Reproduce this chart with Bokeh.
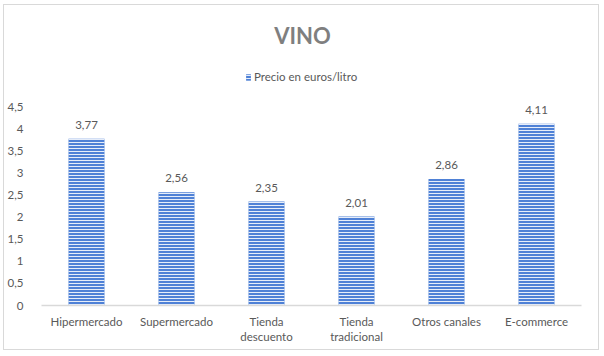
from bokeh.plotting import figure
from bokeh.models import ColumnDataSource, FactorRange, Range1d, FixedTicker, Label, Legend, LegendItem
from bokeh.core.properties import value
from bokeh.embed import file_html
from bokeh.resources import INLINE

title_text = "VINO"
series_name = "Precio en euros/litro"
categories = ["Hipermercado", "Supermercado", "Tienda\ndescuento", "Tienda\ntradicional", "Otros canales", "E-commerce"]
prices = [3.77, 2.56, 2.35, 2.01, 2.86, 4.11]
y_ticks = [0, 0.5, 1, 1.5, 2, 2.5, 3, 3.5, 4, 4.5]
y_tick_labels = ["0", "0,5", "1", "1,5", "2", "2,5", "3", "3,5", "4", "4,5"]

FONT = "Lato"
TXT = "#595959"
FS = "11.5px"

# canvas sits inside a 1px bordered box placed at (3,4) of the page
OX, OY = 4, 5
W, H = 596, 346
frame_top, frame_bottom = 8 - OY, 305 - OY
frame_left, frame_right = 41 - OX, 581 - OX
axis_max_px = 199.0  # pixels from 0 to 4.5
y_end = 4.5 * (frame_bottom - frame_top) / axis_max_px
px_per_unit = axis_max_px / 4.5

src = ColumnDataSource(dict(cat=categories, val=prices,
                            lab=[f"{v:.2f}".replace(".", ",") for v in prices]))

p = figure(width=W, height=H, x_range=FactorRange(factors=categories, range_padding=0),
           y_range=Range1d(0, y_end), output_backend="svg", toolbar_location=None,
           min_border_left=frame_left, min_border_right=W - frame_right,
           min_border_top=frame_top, min_border_bottom=H - frame_bottom)
p.margin = (4, 0, 0, 3)
p.styles = {"border": "1px solid #d9d9d9"}
p.outline_line_color = None
p.background_fill_color = "white"
p.border_fill_color = "white"
p.xgrid.grid_line_color = None
p.ygrid.grid_line_color = None

bars = p.vbar(x="cat", top="val", width=0.4, source=src,
              fill_color="#4f81d6", line_color=None,
              hatch_pattern="horizontal_line", hatch_color="#e6edf9",
              hatch_scale=3, hatch_weight=1)

p.text(x="cat", y="val", text="lab", source=src, text_align="center", text_baseline="bottom",
       y_offset=-10, text_font=value(FONT), text_font_size=FS, text_color=TXT)

# axes
p.yaxis.ticker = FixedTicker(ticks=y_ticks)
p.yaxis.major_label_overrides = {t: l for t, l in zip(y_ticks, y_tick_labels)}
p.yaxis.axis_line_color = None
p.yaxis.major_tick_line_color = None
p.yaxis.minor_tick_line_color = None
p.yaxis.major_label_standoff = 12
p.yaxis.major_label_text_font = FONT
p.yaxis.major_label_text_font_size = FS
p.yaxis.major_label_text_color = TXT

p.xaxis.axis_line_color = "#d9d9d9"
p.xaxis.axis_line_width = 1.5
p.xaxis.major_tick_line_color = None
p.xaxis.minor_tick_line_color = None
p.xaxis.major_label_standoff = 3
p.xaxis.major_label_text_font = FONT
p.xaxis.major_label_text_font_size = FS
p.xaxis.major_label_text_color = TXT

# title
title_y = (frame_bottom - (35 - OY)) / px_per_unit
p.add_layout(Label(x=3, y=title_y, x_offset=-9, text=title_text, text_align="center",
                   text_baseline="middle", text_font=FONT, text_font_style="bold",
                   text_font_size="22px", text_color="#7f7f7f"))

# legend
legend = Legend(items=[LegendItem(label=series_name, renderers=[bars])],
                location=(204, 222), orientation="horizontal",
                margin=0, padding=4, glyph_width=6, glyph_height=8, label_standoff=3,
                label_text_font=FONT, label_text_font_size=FS, label_text_color=TXT,
                border_line_color=None, background_fill_alpha=0)
p.add_layout(legend, "center")

open("out.html", "w").write(file_html(p, INLINE))
